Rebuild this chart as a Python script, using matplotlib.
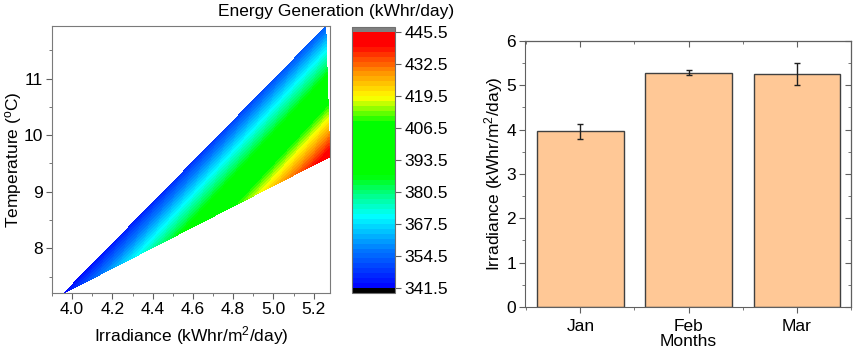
import numpy as np
import matplotlib
matplotlib.use("Agg")
import matplotlib.pyplot as plt
import matplotlib.tri as mtri
from matplotlib.colors import LinearSegmentedColormap

plt.rcParams['font.family'] = ['Liberation Sans', 'DejaVu Sans']
plt.rcParams['mathtext.default'] = 'regular'
plt.rcParams['font.size'] = 12.5

# data
months = ['Jan', 'Feb', 'Mar']
irradiance = [3.96, 5.28, 5.26]
irr_err = [0.17, 0.06, 0.25]
bar_irr = [3.96, 5.28, 5.25]
temperature = [7.21, 9.62, 11.92]
energy = [342.0, 445.0, 353.0]

cb_ticks = [341.5, 354.5, 367.5, 380.5, 393.5, 406.5, 419.5, 432.5, 445.5]

# rainbow-ish colormap like Origin
nodes = [(0.00, (0, 0, 1)),
         (0.14, (0, 0.45, 1)),
         (0.28, (0, 1, 1)),
         (0.37, (0, 1, 0.5)),
         (0.44, (0, 1, 0)),
         (0.645, (0, 1, 0)),
         (0.745, (1, 1, 0)),
         (0.85, (1, 0.55, 0)),
         (0.95, (1, 0, 0)),
         (1.00, (1, 0, 0))]
cmap = LinearSegmentedColormap.from_list('origin_rainbow', nodes)
cmap.set_under('black')
cmap.set_over('#808080')

fig = plt.figure(figsize=(8.58, 3.52), dpi=100)

# left: contour
ax1 = fig.add_axes([0.0606, 0.1676, 0.324, 0.7585])
tri = mtri.Triangulation(irradiance, temperature)
levels = np.linspace(341.5, 445.5, 53)
cs = ax1.tricontourf(tri, energy, levels=levels, cmap=cmap, extend='both')
ax1.set_xlim(3.957, 5.281)
ax1.set_ylim(7.21, 11.93)
ax1.set_xticks([4.0, 4.2, 4.4, 4.6, 4.8, 5.0, 5.2])
ax1.set_xticks(np.arange(3.9, 5.3, 0.1), minor=True)
ax1.set_yticks([8, 9, 10, 11])
ax1.set_yticks(np.arange(7.5, 12.0, 0.5), minor=True)
ax1.xaxis.set_major_formatter(matplotlib.ticker.FormatStrFormatter('%.1f'))
ax1.tick_params(which='major', direction='out', length=4.5, pad=2, color='#606060')
ax1.tick_params(which='minor', direction='out', length=2.5, color='#606060')
for s in ax1.spines.values():
    s.set_color('#7a7a7a')
ax1.set_xlabel('Irradiance (kWhr/m$^2$/day)', labelpad=5)
ax1.set_ylabel('Temperature ($^{o}$C)', labelpad=0)

# colorbar
cax = fig.add_axes([0.4103, 0.1676, 0.050, 0.7557])
cb = fig.colorbar(cs, cax=cax, extend='both', extendrect=True, extendfrac=0.02, ticks=cb_ticks)
cb.ax.set_yticklabels(['%.1f' % t for t in cb_ticks])
cb.ax.tick_params(direction='out', length=4, pad=3, color='#606060')
cb.outline.set_edgecolor('#707070')
fig.text(0.392, 0.968, 'Energy Generation (kWhr/day)', ha='center', va='center')

# right: bars
ax2 = fig.add_axes([0.612, 0.128, 0.380, 0.756])
x = np.arange(len(months))
ax2.bar(x, bar_irr, width=0.8, color='#ffc896', edgecolor='#404040', linewidth=1.0,
        yerr=irr_err, capsize=2, error_kw=dict(ecolor='#202020', elinewidth=1.0, capthick=1.0))
ax2.set_xlim(-0.51, 2.46)
ax2.set_ylim(0, 6)
ax2.set_xticks(x)
ax2.set_xticklabels(months)
ax2.set_xticks([-0.5, 0.5, 1.5, 2.5], minor=True)
ax2.set_yticks(range(7))
ax2.set_yticks(np.arange(0.5, 6.0, 1.0), minor=True)
ax2.tick_params(which='major', direction='out', length=4.5, pad=2, color='#606060')
ax2.tick_params(which='minor', direction='out', length=2.5, color='#606060')
ax2.tick_params(axis='x', which='major', pad=4)
for s in ax2.spines.values():
    s.set_color('#606060')
sec_y = ax2.secondary_yaxis('right')
sec_y.set_yticks(range(7))
sec_y.set_yticks(np.arange(0.5, 6.0, 1.0), minor=True)
sec_y.tick_params(which='both', direction='in', labelright=False, color='#606060')
sec_y.tick_params(which='major', length=4.5)
sec_y.tick_params(which='minor', length=2.5)
sec_x = ax2.secondary_xaxis('top')
sec_x.set_xticks(x)
sec_x.set_xticks([-0.5, 0.5, 1.5, 2.5], minor=True)
sec_x.tick_params(which='both', direction='in', labeltop=False, color='#606060')
sec_x.tick_params(which='major', length=4.5)
sec_x.tick_params(which='minor', length=2.5)
ax2.set_xlabel('Months', labelpad=0)
ax2.set_ylabel('Irradiance (kWhr/m$^2$/day)', labelpad=1)

fig.savefig('out.png', dpi=100)
